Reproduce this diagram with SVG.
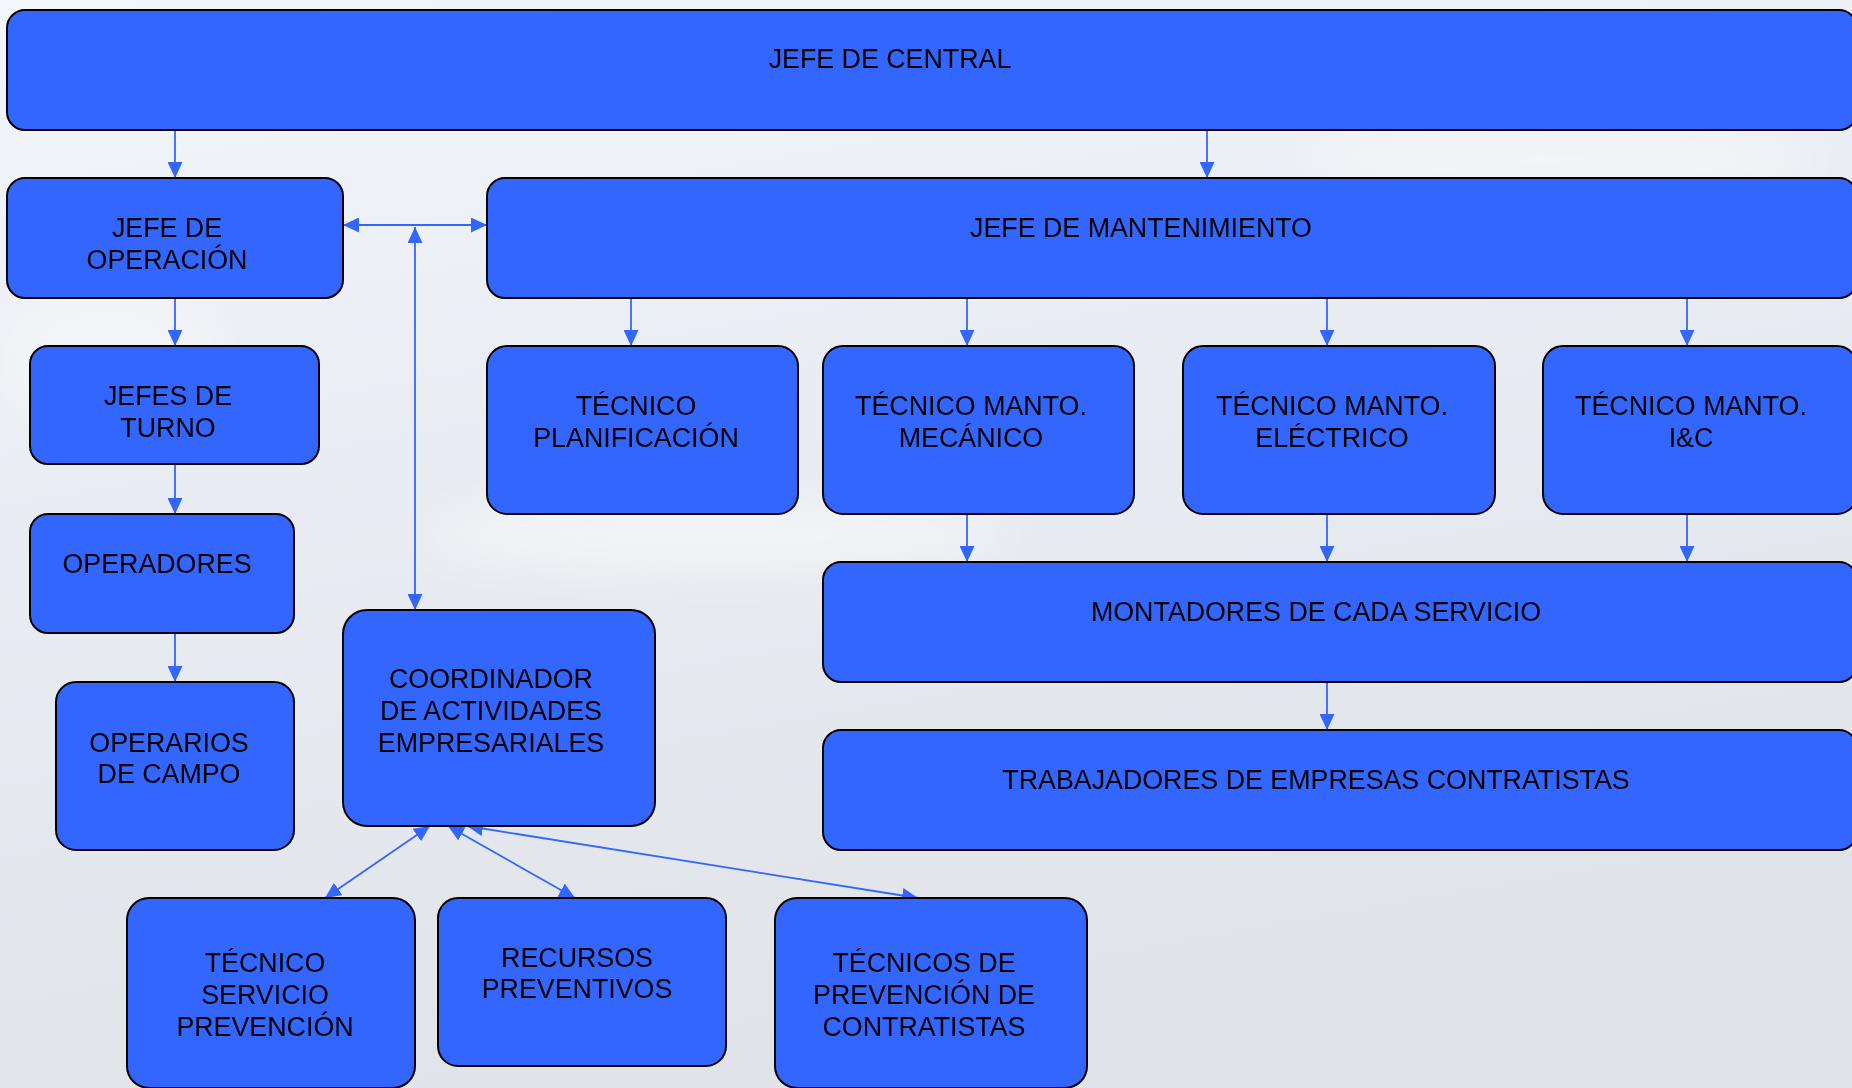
<svg xmlns="http://www.w3.org/2000/svg" width="1852" height="1088" viewBox="0 0 1852 1088">
<defs>
<linearGradient id="bg" x1="0" y1="0" x2="0.3" y2="1">
<stop offset="0" stop-color="#F3F6FA"/>
<stop offset="0.45" stop-color="#E9ECF2"/>
<stop offset="1" stop-color="#E0E3E8"/>
</linearGradient>
<filter id="soft" x="-30%" y="-30%" width="160%" height="160%">
<feGaussianBlur stdDeviation="25"/>
</filter>
<marker id="ah" markerUnits="userSpaceOnUse" markerWidth="16" markerHeight="15" refX="16" refY="7.5" orient="auto-start-reverse" viewBox="0 0 16 15">
<path d="M0,0 L16,7.5 L0,15 z" fill="#3366FF"/>
</marker>
<style>
.box{fill:#3366FF;stroke:#000;stroke-width:2}
.t{font-family:"Liberation Sans",Arial,sans-serif;font-size:26.8px;fill:#000;text-anchor:middle}
.c{stroke:#3366FF;stroke-width:1.8;fill:none;marker-end:url(#ah)}
.d{stroke:#3366FF;stroke-width:1.8;fill:none;marker-start:url(#ah);marker-end:url(#ah)}
</style>
</defs>
<rect width="1852" height="1088" fill="url(#bg)"/>
<g filter="url(#soft)" fill="#FFFFFF">
<ellipse cx="720" cy="535" rx="300" ry="35" opacity="0.5"/>
<ellipse cx="1560" cy="160" rx="260" ry="30" opacity="0.5"/>
<ellipse cx="110" cy="360" rx="110" ry="70" opacity="0.4"/>
</g>

<g id="connectors">
<line class="c" x1="175" y1="130" x2="175" y2="178"/>
<line class="c" x1="1207" y1="130" x2="1207" y2="178"/>
<line class="c" x1="175" y1="298" x2="175" y2="346"/>
<line class="c" x1="175" y1="464" x2="175" y2="514"/>
<line class="c" x1="175" y1="633" x2="175" y2="682"/>
<line class="d" x1="343" y1="225" x2="487" y2="225"/>
<line class="d" x1="415" y1="227" x2="415" y2="610"/>
<line class="c" x1="631" y1="298" x2="631" y2="346"/>
<line class="c" x1="967" y1="298" x2="967" y2="346"/>
<line class="c" x1="1327" y1="298" x2="1327" y2="346"/>
<line class="c" x1="1687" y1="298" x2="1687" y2="346"/>
<line class="c" x1="967" y1="514" x2="967" y2="562"/>
<line class="c" x1="1327" y1="514" x2="1327" y2="562"/>
<line class="c" x1="1687" y1="514" x2="1687" y2="562"/>
<line class="c" x1="1327" y1="682" x2="1327" y2="730"/>
<line class="d" x1="430" y1="826" x2="325" y2="898"/>
<line class="d" x1="448" y1="826" x2="575" y2="898"/>
<line class="d" x1="467" y1="826" x2="918" y2="898"/>
</g>

<g id="jefe-central">
<rect class="box" x="7" y="10" width="1850" height="120" rx="18"/>
<text class="t" x="890" y="68">JEFE DE CENTRAL</text>
</g>
<g id="jefe-operacion">
<rect class="box" x="7" y="178" width="336" height="120" rx="18"/>
<text class="t" x="167" y="237">JEFE DE</text>
<text class="t" x="167" y="269">OPERACIÓN</text>
</g>
<g id="jefe-mantenimiento">
<rect class="box" x="487" y="178" width="1370" height="120" rx="18"/>
<text class="t" x="1141" y="237">JEFE DE MANTENIMIENTO</text>
</g>
<g id="jefes-turno">
<rect class="box" x="30" y="346" width="289" height="118" rx="18"/>
<text class="t" x="168" y="405">JEFES DE</text>
<text class="t" x="168" y="437">TURNO</text>
</g>
<g id="tecnico-planificacion">
<rect class="box" x="487" y="346" width="311" height="168" rx="20"/>
<text class="t" x="636" y="415">TÉCNICO</text>
<text class="t" x="636" y="447">PLANIFICACIÓN</text>
</g>
<g id="tecnico-mecanico">
<rect class="box" x="823" y="346" width="311" height="168" rx="20"/>
<text class="t" x="971" y="415">TÉCNICO MANTO.</text>
<text class="t" x="971" y="447">MECÁNICO</text>
</g>
<g id="tecnico-electrico">
<rect class="box" x="1183" y="346" width="312" height="168" rx="20"/>
<text class="t" x="1332" y="415">TÉCNICO MANTO.</text>
<text class="t" x="1332" y="447">ELÉCTRICO</text>
</g>
<g id="tecnico-ic">
<rect class="box" x="1543" y="346" width="314" height="168" rx="20"/>
<text class="t" x="1691" y="415">TÉCNICO MANTO.</text>
<text class="t" x="1691" y="447">I&amp;C</text>
</g>
<g id="operadores">
<rect class="box" x="30" y="514" width="264" height="119" rx="18"/>
<text class="t" x="157" y="573">OPERADORES</text>
</g>
<g id="operarios-campo">
<rect class="box" x="56" y="682" width="238" height="168" rx="20"/>
<text class="t" x="169" y="752">OPERARIOS</text>
<text class="t" x="169" y="783">DE CAMPO</text>
</g>
<g id="coordinador">
<rect class="box" x="343" y="610" width="312" height="216" rx="24"/>
<text class="t" x="491" y="688">COORDINADOR</text>
<text class="t" x="491" y="720">DE ACTIVIDADES</text>
<text class="t" x="491" y="752">EMPRESARIALES</text>
</g>
<g id="montadores">
<rect class="box" x="823" y="562" width="1034" height="120" rx="18"/>
<text class="t" x="1316" y="621">MONTADORES DE CADA SERVICIO</text>
</g>
<g id="trabajadores">
<rect class="box" x="823" y="730" width="1034" height="120" rx="18"/>
<text class="t" x="1316" y="789">TRABAJADORES DE EMPRESAS CONTRATISTAS</text>
</g>
<g id="tecnico-servicio-prevencion">
<rect class="box" x="127" y="898" width="288" height="190" rx="22"/>
<text class="t" x="265" y="972">TÉCNICO</text>
<text class="t" x="265" y="1004">SERVICIO</text>
<text class="t" x="265" y="1036">PREVENCIÓN</text>
</g>
<g id="recursos-preventivos">
<rect class="box" x="438" y="898" width="288" height="168" rx="20"/>
<text class="t" x="577" y="967">RECURSOS</text>
<text class="t" x="577" y="998">PREVENTIVOS</text>
</g>
<g id="tecnicos-prevencion-contratistas">
<rect class="box" x="775" y="898" width="312" height="190" rx="22"/>
<text class="t" x="924" y="972">TÉCNICOS DE</text>
<text class="t" x="924" y="1004">PREVENCIÓN DE</text>
<text class="t" x="924" y="1036">CONTRATISTAS</text>
</g>
</svg>
